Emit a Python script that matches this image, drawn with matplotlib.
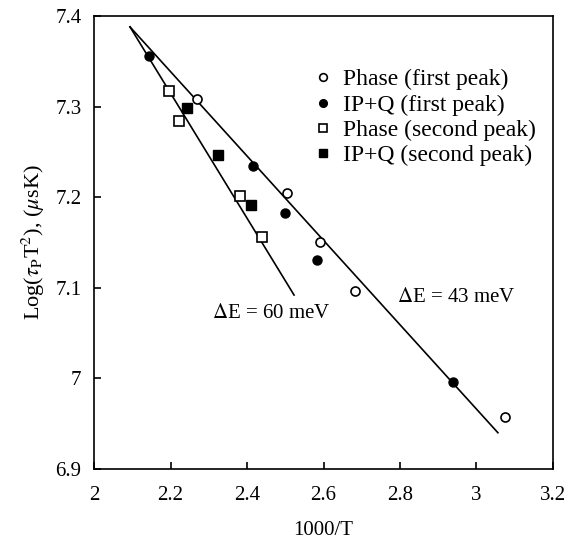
import matplotlib
matplotlib.use('Agg')
import matplotlib.pyplot as plt

plt.rcParams['font.family'] = ['Liberation Serif', 'DejaVu Serif']
plt.rcParams['mathtext.fontset'] = 'stix'
plt.rcParams['font.size'] = 15

# Phase (first peak)
ph1_x = [2.269, 2.505, 2.59, 2.683, 3.075]
ph1_y = [7.308, 7.205, 7.15, 7.096, 6.957]
# IP+Q (first peak)
ipq1_x = [2.144, 2.416, 2.499, 2.583, 2.939]
ipq1_y = [7.356, 7.234, 7.183, 7.131, 6.996]
# Phase (second peak)
ph2_x = [2.196, 2.222, 2.382, 2.44]
ph2_y = [7.317, 7.284, 7.201, 7.156]
# IP+Q (second peak)
ipq2_x = [2.243, 2.324, 2.41]
ipq2_y = [7.298, 7.247, 7.191]

# fitted lines
fit43_x = [2.094, 3.056]
fit43_y = [7.388, 6.940]
fit60_x = [2.094, 2.523]
fit60_y = [7.388, 7.092]

fig = plt.figure(figsize=(5.74, 5.5), dpi=100)
ax = fig.add_axes([0.1638, 0.1473, 0.7996, 0.8236])

ax.plot(fit43_x, fit43_y, color='black', lw=1.2)
ax.plot(fit60_x, fit60_y, color='black', lw=1.2)

ax.plot(ph1_x, ph1_y, 'o', mfc='white', mec='black', mew=1.2, ms=6.5,
        label='Phase (first peak)')
ax.plot(ipq1_x, ipq1_y, 'o', mfc='black', mec='black', ms=6.5,
        label='IP+Q (first peak)')
ax.plot(ph2_x, ph2_y, 's', mfc='white', mec='black', mew=1.2, ms=7,
        label='Phase (second peak)')
ax.plot(ipq2_x, ipq2_y, 's', mfc='black', mec='black', ms=7,
        label='IP+Q (second peak)')

ax.text(2.309, 7.072, r'$\Delta$E = 60 meV', ha='left', va='center', fontsize=15)
ax.text(2.792, 7.089, r'$\Delta$E = 43 meV', ha='left', va='center', fontsize=15)

ax.legend(loc='upper left', bbox_to_anchor=(0.426, 0.93), frameon=False,
          handletextpad=0.35, labelspacing=0.16, handlelength=1.0,
          markerscale=0.85, fontsize=17)

ax.set_xlim(2, 3.2)
ax.set_ylim(6.9, 7.4)
ax.set_xticks([2, 2.2, 2.4, 2.6, 2.8, 3, 3.2])
ax.set_xticklabels(['2', '2.2', '2.4', '2.6', '2.8', '3', '3.2'])
ax.set_yticks([6.9, 7.0, 7.1, 7.2, 7.3, 7.4])
ax.set_yticklabels(['6.9', '7', '7.1', '7.2', '7.3', '7.4'])
ax.tick_params(direction='in', length=5, width=1.2, top=False, right=False,
               labelsize=15)
ax.tick_params(axis='x', pad=12)
ax.tick_params(axis='y', pad=9)
for s in ax.spines.values():
    s.set_linewidth(1.2)

ax.set_xlabel('1000/T', labelpad=12, fontsize=15)
ax.set_ylabel(r'Log($\tau_{\rm P}$T$^2$), ($\mu$sK)', labelpad=6, fontsize=16)

fig.savefig('out.png', dpi=100)
